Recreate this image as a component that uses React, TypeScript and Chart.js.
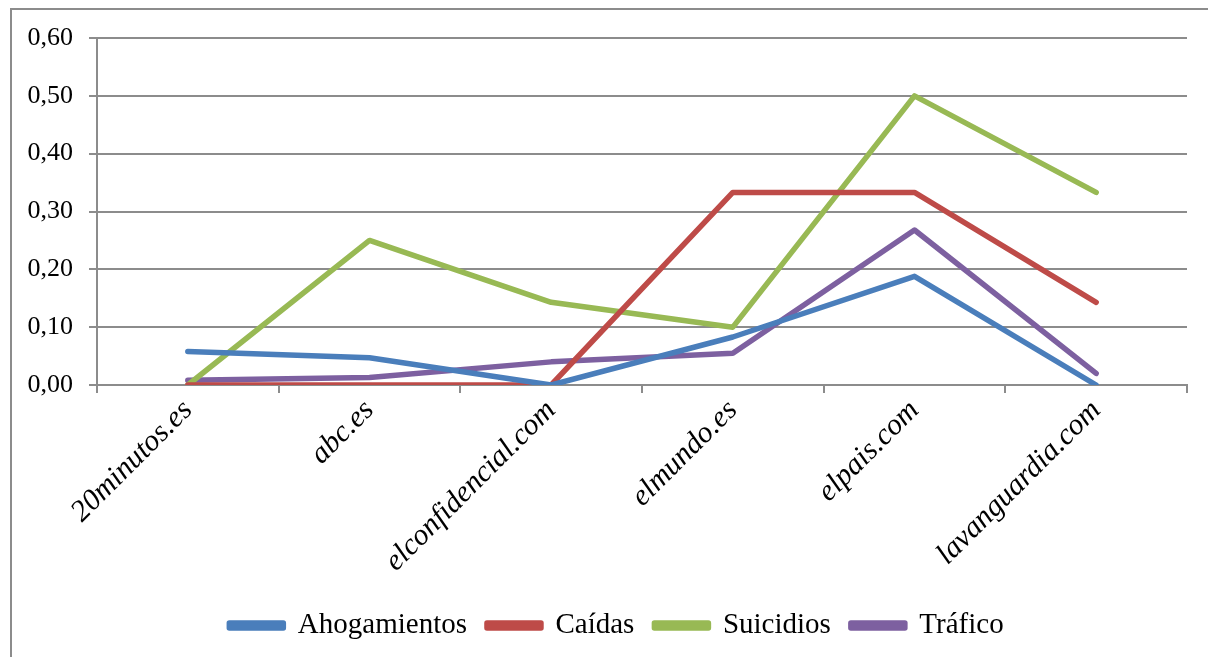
import React, { useEffect, useRef } from "react";
import { Chart, registerables } from "chart.js";

Chart.register(...registerables);

const categories = ["20minutos.es", "abc.es", "elconfidencial.com", "elmundo.es", "elpais.com", "lavanguardia.com"];
const ahogamientos = [0.058, 0.047, 0, 0.083, 0.188, 0];
const caidas = [0, 0, 0, 0.333, 0.333, 0.143];
const suicidios = [0, 0.25, 0.143, 0.1, 0.5, 0.333];
const trafico = [0.008, 0.013, 0.04, 0.055, 0.268, 0.02];
const yTicks = [0, 0.1, 0.2, 0.3, 0.4, 0.5, 0.6];

const seriesNames = ["Ahogamientos", "Caídas", "Suicidios", "Tráfico"];
const seriesColors = ["#4A7EBB", "#BE4B48", "#98B954", "#7D60A0"];

const GRID = "#8C8C8C";
const FONT = "'Liberation Serif', 'Times New Roman', serif";

const shiftLegend = {
  id: "shiftLegend",
  afterLayout(chart: any) {
    const lg = chart.legend;
    if (lg) {
      lg.left += 23;
      lg.right += 23;
    }
  },
};

export default function App() {
  const ref = useRef<HTMLCanvasElement | null>(null);

  useEffect(() => {
    if (!ref.current) return;
    const values = [ahogamientos, caidas, suicidios, trafico];
    const chart = new Chart(ref.current, {
      type: "line",
      data: {
        labels: categories,
        datasets: values.map((v, i) => ({
          label: seriesNames[i],
          data: v,
          borderColor: seriesColors[i],
          backgroundColor: seriesColors[i],
          borderWidth: 5.5,
          pointRadius: 0,
          borderCapStyle: "round" as const,
          borderJoinStyle: "round" as const,
          tension: 0,
        })),
      },
      plugins: [shiftLegend],
      options: {
        animation: false,
        responsive: false,
        maintainAspectRatio: false,
        layout: { padding: { top: 38, right: 21, left: 0, bottom: 7 } },
        plugins: {
          tooltip: { enabled: false },
          legend: {
            position: "bottom",
            labels: {
              boxWidth: 54,
              boxHeight: 5,
              padding: 20,
              color: "#000",
              font: { family: FONT, size: 29 },
            },
          },
        },
        scales: {
          x: {
            type: "category",
            offset: true,
            grid: {
              display: true,
              drawOnChartArea: false,
              offset: true,
              color: GRID,
              lineWidth: 2,
              tickLength: 8,
            },
            border: { display: true, color: GRID, width: 2 },
            ticks: {
              minRotation: 45,
              maxRotation: 45,
              color: "#000",
              padding: 0,
              font: { family: FONT, size: 30, style: "italic" },
            },
            afterFit: (s: any) => {
              s.height = 206;
            },
          },
          y: {
            min: 0,
            max: 0.6,
            afterBuildTicks: (s: any) => {
              s.ticks = yTicks.map((v) => ({ value: v }));
            },
            grid: { color: GRID, lineWidth: 2, tickLength: 8 },
            border: { display: true, color: GRID, width: 2 },
            ticks: {
              color: "#000",
              padding: 16,
              font: { family: FONT, size: 26 },
              callback: (v: any) => Number(v).toFixed(2).replace(".", ","),
            },
            afterFit: (s: any) => {
              s.width = 97;
            },
          },
        },
      },
    });
    return () => chart.destroy();
  }, []);

  return (
    <div style={{ position: "fixed", left: 0, top: 0, width: 1208, height: 657, background: "#fff", overflow: "hidden" }}>
      <canvas ref={ref} width={1208} height={657} style={{ position: "absolute", left: 0, top: 0 }} />
      <div
        style={{
          position: "absolute",
          left: 10,
          top: 8,
          width: 1220,
          height: 680,
          borderLeft: `2px solid ${GRID}`,
          borderTop: `2px solid ${GRID}`,
          pointerEvents: "none",
        }}
      />
    </div>
  );
}
